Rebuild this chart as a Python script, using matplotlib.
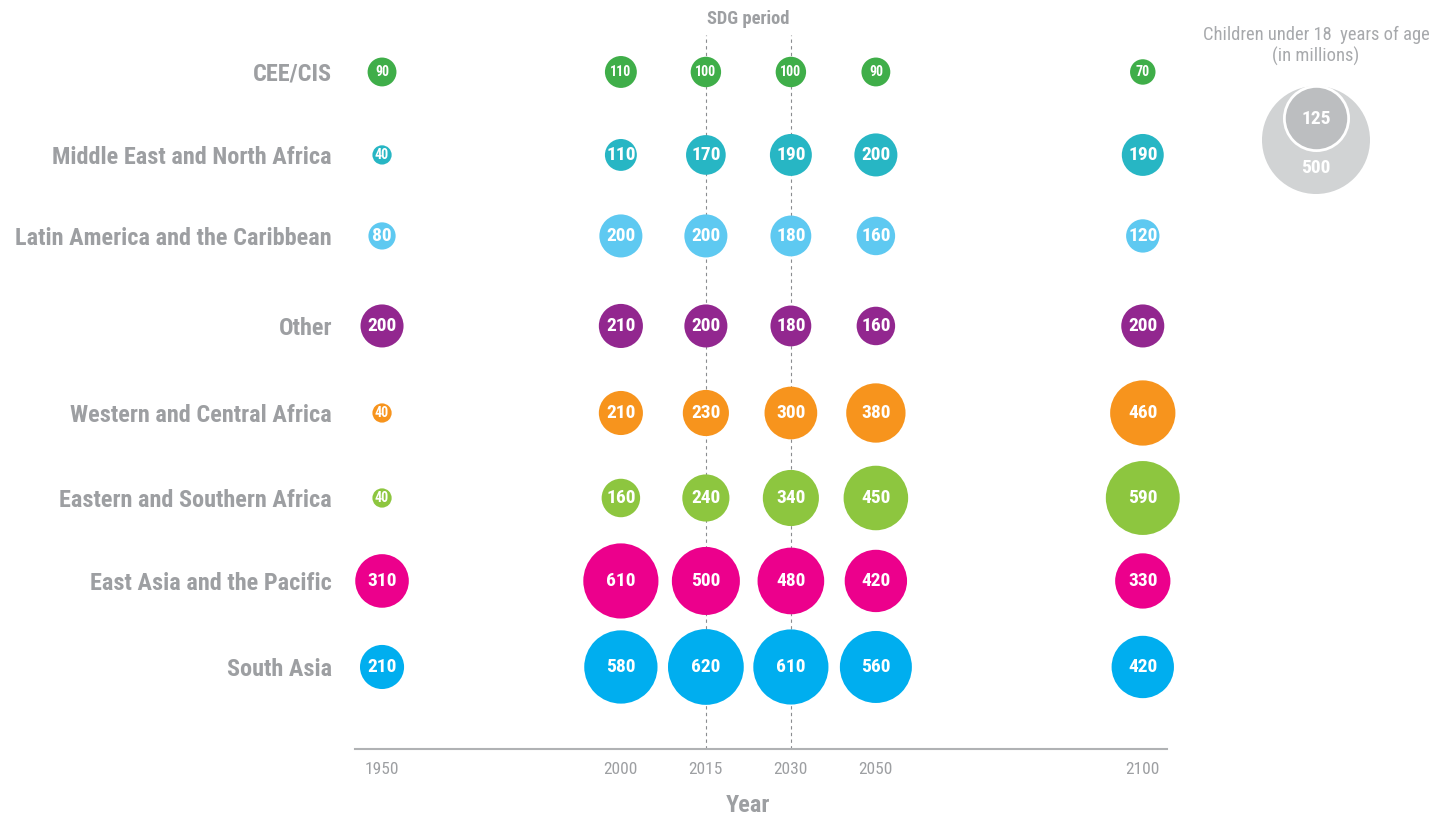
import matplotlib
matplotlib.use("Agg")
import matplotlib.pyplot as plt
from matplotlib import font_manager

# ---------------- data ----------------
years = ["1950", "2000", "2015", "2030", "2050", "2100"]
regions = ["CEE/CIS", "Middle East and North Africa", "Latin America and the Caribbean",
           "Other", "Western and Central Africa", "Eastern and Southern Africa",
           "East Asia and the Pacific", "South Asia"]
cee_cis = [90, 110, 100, 100, 90, 70]
mena = [40, 110, 170, 190, 200, 190]
lac = [80, 200, 200, 180, 160, 120]
other = [200, 210, 200, 180, 160, 200]
wca = [40, 210, 230, 300, 380, 460]
esa = [40, 160, 240, 340, 450, 590]
eap = [310, 610, 500, 480, 420, 330]
south_asia = [210, 580, 620, 610, 560, 420]
series = [cee_cis, mena, lac, other, wca, esa, eap, south_asia]
sdg_years = ["2015", "2030"]
legend_values = [500, 125]

# ---------------- style / layout ----------------
colors = ["#3fae49", "#27b6c4", "#5ec9f1", "#92278f", "#f7941d", "#8dc63f", "#ec008c", "#00aeef"]
col_pos = [0.0, 2.81, 3.81, 4.81, 5.81, 8.95]
row_pos = [0.0, 0.976, 1.929, 2.988, 4.012, 5.012, 5.988, 7.0]
GRAY = "#9d9fa2"
LGRAY = "#a7a9ac"

avail = {f.name for f in font_manager.fontManager.ttflist}
font = "DejaVu Sans"
for cand in ["Roboto Condensed", "Archivo Narrow", "IBM Plex Sans Condensed",
             "Liberation Sans Narrow", "Open Sans Condensed"]:
    if cand in avail:
        font = cand
        break
plt.rcParams['font.family'] = [font, "DejaVu Sans"]

W, H = 1432, 817
fig = plt.figure(figsize=(W / 100, H / 100), dpi=100)
ax_l, ax_r, ax_t, ax_b = 355, 1167, 35, 749
ax = fig.add_axes([ax_l / W, 1 - ax_b / H, (ax_r - ax_l) / W, (ax_b - ax_t) / H])
ax.set_xlim(-0.318, 9.235)
ax.set_ylim(7.965, -0.435)

for sy in sdg_years:
    ax.axvline(col_pos[years.index(sy)], color="#8a8c8f", lw=0.8, ls=(0, (3, 3)), zorder=1)

SCALE = 4.8
for r, (vals, c) in enumerate(zip(series, colors)):
    y = row_pos[r]
    ax.scatter(col_pos, [y] * len(vals), s=[SCALE * v for v in vals], color=c,
               edgecolors="none", zorder=3, clip_on=False)
    for x, v in zip(col_pos, vals):
        small = (r == 0) or v < 50
        ax.text(x, y, str(v), ha="center", va="center", color="white",
                fontsize=10 if small else 14, fontweight="bold", zorder=4)

ax.set_xticks(col_pos)
ax.set_xticklabels(years)
ax.set_yticks(row_pos)
ax.set_yticklabels(regions)
ax.tick_params(axis="x", length=0, pad=9, labelsize=12.5, labelcolor=GRAY)
ax.tick_params(axis="y", length=0, pad=16.5, labelsize=17.5, labelcolor=GRAY)
for lab in ax.get_yticklabels():
    lab.set_fontweight("bold")
for sp in ["top", "left", "right"]:
    ax.spines[sp].set_visible(False)
ax.spines["bottom"].set_color("#b0b2b4")
ax.spines["bottom"].set_linewidth(1.5)

fig.text(748 / W, 1 - 805 / H, "Year", ha="center", va="center", fontsize=17.5,
         fontweight="bold", color=GRAY)
fig.text(748 / W, 1 - 19 / H, "SDG period", ha="center", va="center", fontsize=13.3,
         fontweight="bold", color=GRAY)

# ---------------- legend ----------------
lax = fig.add_axes([0, 0, 1, 1], facecolor="none")
lax.set_xlim(0, W)
lax.set_ylim(H, 0)
lax.axis("off")
fig.text(1316 / W, 1 - 46 / H, "Children under 18  years of age\n(in millions)",
         ha="center", va="center", fontsize=13.3, color=LGRAY, linespacing=1.2)
LSC = 57.2
lax.scatter([1316], [140], s=[LSC * legend_values[0] ** 0.75], color="#d1d3d4",
            edgecolors="none", zorder=2)
lax.scatter([1316], [118], s=[LSC * legend_values[1] ** 0.75], color="#bcbec0",
            edgecolors="white", linewidths=2, zorder=3)
lax.text(1316, 119, str(legend_values[1]), ha="center", va="center", color="white",
         fontsize=14, fontweight="bold", zorder=4)
lax.text(1316, 168, str(legend_values[0]), ha="center", va="center", color="white",
         fontsize=14, fontweight="bold", zorder=4)

fig.savefig("out.png", dpi=100)
